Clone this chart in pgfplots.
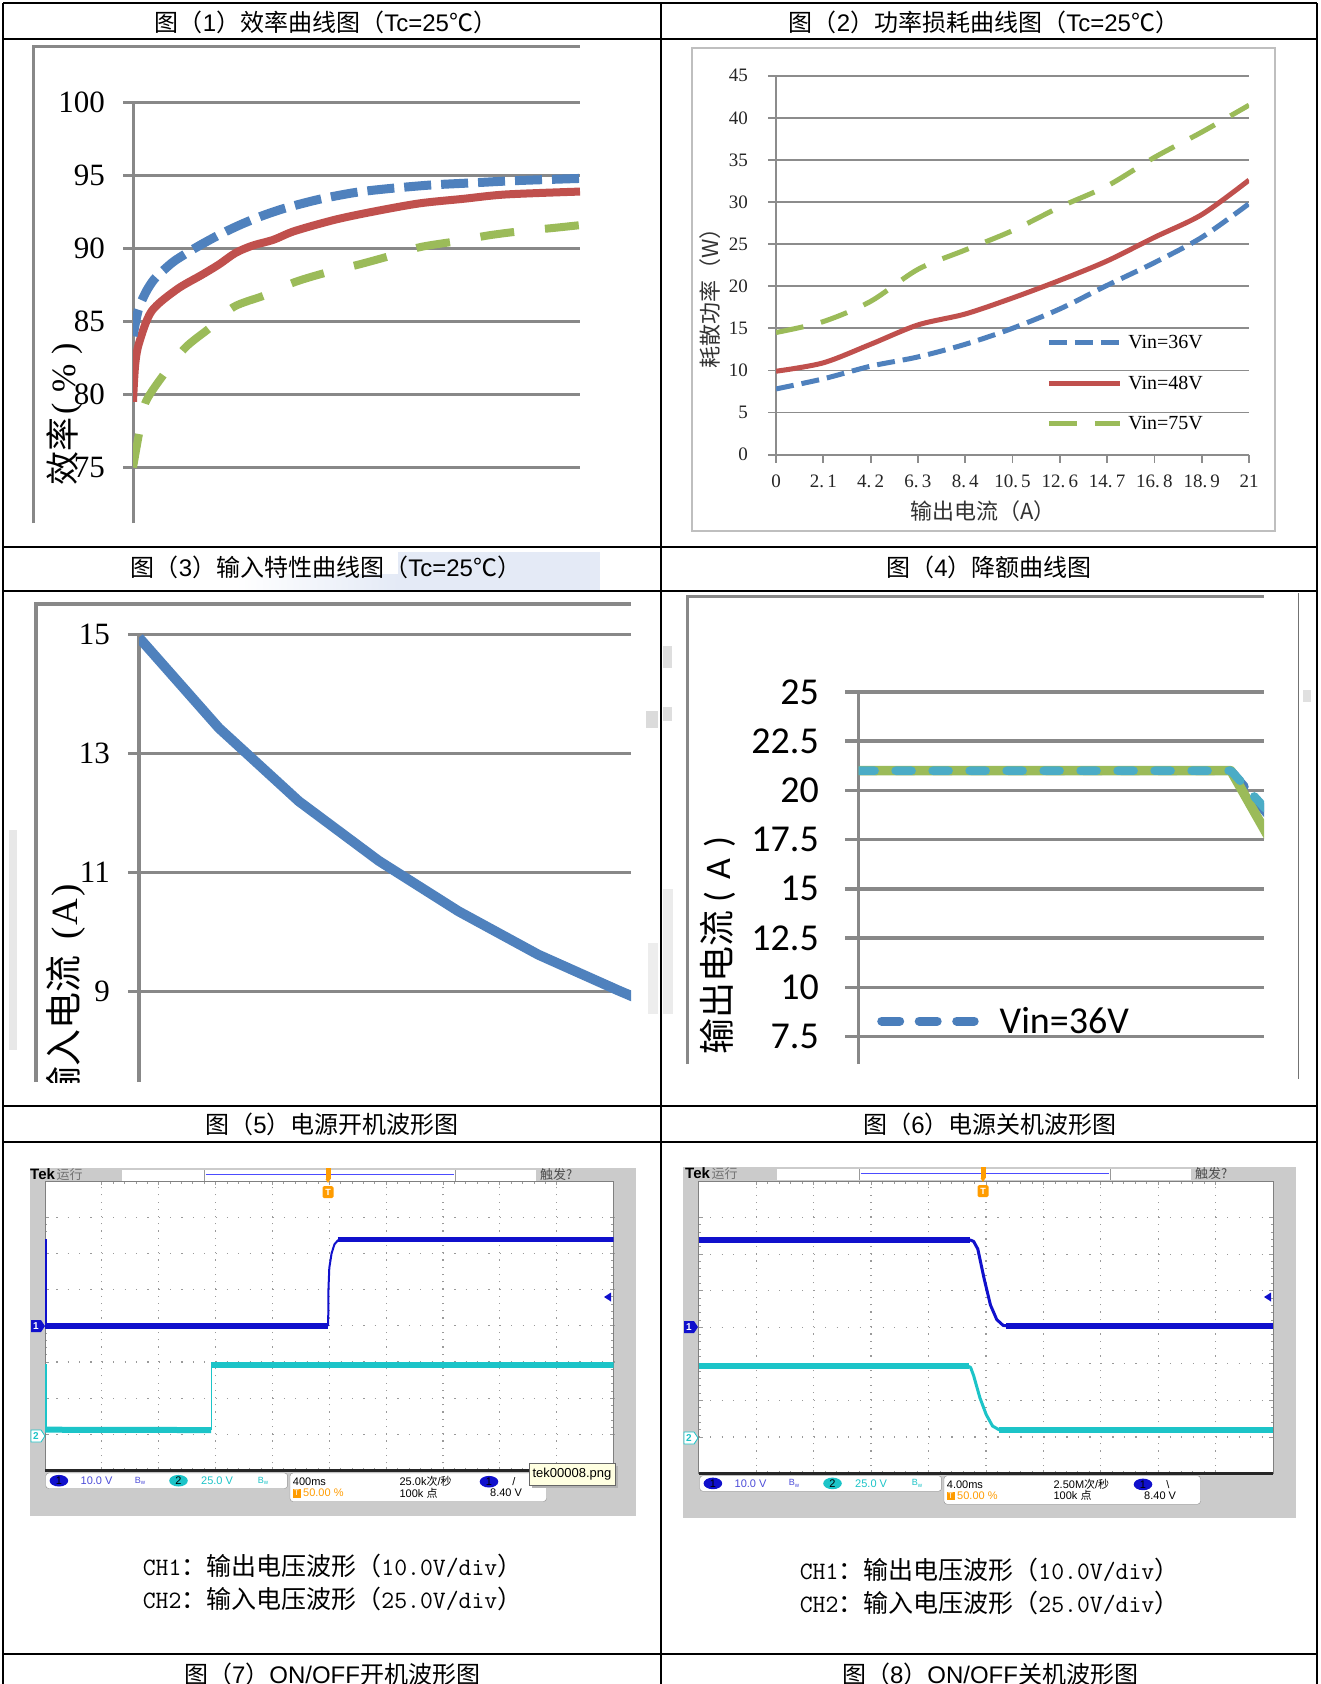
\documentclass[border=0pt]{standalone}
\usepackage{fontspec}
\setmainfont{Liberation Sans}
\newfontfamily\cjk{Noto Sans CJK SC}
\newfontfamily\tnr{Liberation Serif}
\newfontfamily\calib{Carlito}
\usepackage{pgfplots}
\pgfplotsset{compat=1.18}
\newcommand\fs[1]{\fontsize{#1}{#1}\selectfont}
\definecolor{xblue}{HTML}{4F81BD}
\definecolor{xred}{HTML}{C0504D}
\definecolor{xgreen}{HTML}{9BBB59}
\definecolor{xteal}{HTML}{4BACC6}
\definecolor{lblue}{HTML}{4A7EBB}
\definecolor{gridc}{HTML}{888888}
\definecolor{gridb}{HTML}{8C8C8C}
\definecolor{framec}{HTML}{BFBFBF}
\definecolor{scbg}{HTML}{CBCBCB}
\definecolor{scgrid}{HTML}{9A9A9A}
\definecolor{chA}{HTML}{1010CC}
\definecolor{chB}{HTML}{1CC4C8}
\definecolor{trig}{HTML}{FF9C00}
\definecolor{tbg}{HTML}{E4EAF6}
\definecolor{tipc}{HTML}{FFFFE1}

\newcommand\topbar[2]{%
\begin{scope}[shift={(#1,#2)}]
 \fill[white] (122,1170) rectangle (536,1180.7);
 \draw[black!40, line width=0.6] (204.6,1170.3) -- (204.6,1180.5) (454.8,1170.3) -- (454.8,1180.5);
 \draw[blue!70!white, line width=1.5] (205.5,1174.7) -- (454,1174.7);
 \fill[trig] (325.5,1168) rectangle (330.5,1179);
 \fill[trig] (325.5,1179) -- (330.5,1179) -- (328,1183) -- cycle;
 \fill[trig, rounded corners=1.5] (322.5,1186) rectangle (333.5,1198);
 \node[font=\fs{9}\bfseries, text=white, inner sep=0] at (328,1192) {T};
 \node[anchor=west, inner sep=0] at (30,1175) {{\fs{15}\bfseries Tek}\,{\cjk\fs{13}\color{black!55}运行}};
 \node[anchor=west, inner sep=0] at (540,1175) {\cjk\fs{13}\color{black!70}触发?};
\end{scope}}

\newcommand\statusbar[5]{%
\begin{scope}[shift={(#1,#2)}]
 \draw[black!45, fill=white, rounded corners=3] (45.7,1473) rectangle (287.6,1488.5);
 \draw[black!45, fill=white, rounded corners=3] (290,1473) rectangle (546.5,1501.5);
 \fill[chA] (58.9,1480.7) ellipse (9.3 and 5.8);
 \node[font=\fs{11}, inner sep=0] at (58.9,1480.7) {1};
 \node[anchor=west, font=\fs{11}, text=chA!75!white, inner sep=0] at (80.5,1480.7) {10.0 V};
 \node[font=\fs{9}, text=chA!75!white, inner sep=0] at (140,1480.7) {B\raisebox{-1.5pt}{\fs{6}w}};
 \fill[chB] (178.5,1480.7) ellipse (9.3 and 5.8);
 \node[font=\fs{11}, inner sep=0] at (178.5,1480.7) {2};
 \node[anchor=west, font=\fs{11}, text=chB, inner sep=0] at (201,1480.7) {25.0 V};
 \node[font=\fs{9}, text=chB, inner sep=0] at (263,1480.7) {B\raisebox{-1.5pt}{\fs{6}w}};
 \node[anchor=west, font=\fs{11}, inner sep=0] at (292.7,1481.7) {#3};
 \node[anchor=west, font=\fs{11}, inner sep=0] at (399.4,1481.7) {#4};
 \fill[chA] (489,1481.7) ellipse (9.3 and 5.8);
 \node[font=\fs{11}, inner sep=0] at (489,1481.7) {1};
 \node[font=\fs{11}, inner sep=0] at (514,1481.7) {#5};
 \fill[trig] (292.7,1488.8) rectangle (300.5,1497.5);
 \node[font=\fs{8}, text=white, inner sep=0] at (296.6,1493.2) {T};
 \node[anchor=west, font=\fs{11}, text=trig, inner sep=0] at (303,1493) {50.00 \%};
 \node[anchor=west, font=\fs{11}, inner sep=0] at (399.4,1493) {100k {\cjk 点}};
 \node[anchor=west, font=\fs{11}, inner sep=0] at (490,1493) {8.40 V};
\end{scope}}

\newcommand\gndmarks[3]{% x-left, y ch1, y ch2
 \fill[chA] (#1,#2-6) -- (#1+10,#2-6) -- (#1+14,#2) -- (#1+10,#2+6) -- (#1,#2+6) -- cycle;
 \node[text=white, font=\fs{10}\bfseries, inner sep=0] at (#1+5,#2) {1};
 \draw[chB, fill=white, line width=0.8] (#1,#3-6) -- (#1+10,#3-6) -- (#1+14,#3) -- (#1+10,#3+6) -- (#1,#3+6) -- cycle;
 \node[text=chB, font=\fs{10}\bfseries, inner sep=0] at (#1+5,#3) {2};
}

\newcommand\capA[3]{{\ttfamily #1}{\cjk ：#2（}{\ttfamily #3}{\cjk ）}}

\begin{document}
\begin{tikzpicture}
\path[use as bounding box] (0pt,0pt) rectangle (1320pt,-1684pt);
\clip (0pt,0pt) rectangle (1320pt,-1684pt);
\fill[white] (0pt,0pt) rectangle (1320pt,-1684pt);

\begin{scope}[x=1pt,y=-1pt]
\shade[left color=white, right color=tbg] (236,574) rectangle (398,590);
\fill[tbg] (398,552) rectangle (600,590);
\fill[black!9] (9,830) rectangle (17,1050);
\fill[black!14] (646,711) rectangle (658,728);
\fill[black!7] (648,943) rectangle (658,1014);
\fill[black!13] (663,646) rectangle (672,668);
\fill[black!13] (663,707) rectangle (672,721);
\fill[black!8] (663,889) rectangle (673,1014);
\fill[black!12] (1303,690) rectangle (1311,702);
\draw[gridc, line width=3] (33.7,523) -- (33.7,46) -- (580,46);
\draw[framec, line width=2] (692,48) rectangle (1275,531);
\draw[gridc, line width=3.5] (36,1082) -- (36,604) -- (631,604);
\draw[gridc, line width=3] (687,1064) -- (687,596) -- (1264,596);
\draw[black!55, line width=1] (1298,593) -- (1298,1079);
\fill[scbg] (29.5,1168) rectangle (635.5,1516);
\fill[scbg] (683,1167) rectangle (1295.5,1518);
\fill[white] (45,1181) rectangle (613.6,1470.6);
\fill[white] (698.7,1181) rectangle (1273.2,1473.5);
% y labels
\node[rotate=90, anchor=east, font=\fs{34}, inner sep=0] at (65,343) {{\cjk 效率}\hspace{3pt}{\tnr(\hspace{10pt}\%\hspace{10pt})}};
\node[rotate=90, font=\cjk\fs{22}, text=black!80, inner sep=0] at (710,293) {耗散功率（W）};
\node[font=\cjk\fs{22}, text=black!80, inner sep=0] at (983,511) {输出电流（A）};
\node[rotate=90, anchor=east, font=\fs{36}, inner sep=0] at (718,836) {{\cjk 输出电流}\hspace{8pt}{\calib(\hspace{12pt}A\hspace{12pt})}};
\begin{scope}
\clip (30,600) rectangle (640,1082);
\node[rotate=90, anchor=east, font=\fs{37}, inner sep=0] at (66,884) {{\cjk 输入电流}\hspace{16pt}{\tnr(\hspace{2pt}A\hspace{2pt})}};
\end{scope}
\end{scope}

% ---------- Chart 1 ----------
\begin{axis}[
  at={(133pt,-523pt)}, anchor=south west, scale only axis,
  width=447pt, height=420.5pt,
  xmin=0, xmax=21, ymin=71.2, ymax=100,
  axis x line=none, axis y line*=left,
  axis line style={draw=gridc, line width=3pt, -},
  xtick=\empty,
  ytick={75,80,85,90,95,100}, yticklabels={75,80,85,90,95,100},
  ymajorgrids, major grid style={draw=gridc, line width=3pt},
  tick align=outside, major tick length=10pt,
  tick style={draw=gridc, line width=3pt},
  yticklabel style={font=\tnr\fs{31}, inner sep=0pt, anchor=east, xshift=-18pt},
]
\addplot[xgreen, line width=8pt, dash pattern=on 34pt off 31pt, smooth] coordinates {
(0,75.0)(0.28,77.3)(0.57,79.4)(1.36,81.2)(2.45,83.2)(3.64,84.6)(4.73,86.0)(6.2,86.8)(7.6,87.7)(9.2,88.4)(10.6,88.9)(12.1,89.5)(13.5,90.1)(15.2,90.5)(16.7,90.9)(18.3,91.2)(19.7,91.4)(21,91.6)};
\addplot[xred, line width=8pt, smooth] coordinates {
(0,79.5)(0.1,82.0)(0.28,83.5)(0.87,85.7)(2.06,87.2)(3.24,88.2)(4.03,88.9)(4.82,89.7)(5.62,90.2)(6.6,90.6)(7.6,91.2)(9.57,92.0)(11.55,92.6)(13.5,93.1)(15.5,93.4)(17.5,93.7)(21,93.9)};
\addplot[xblue, line width=9pt, dash pattern=on 27pt off 10pt, smooth] coordinates {
(0,84.0)(0.25,85.8)(0.6,87.0)(1.0,87.9)(1.5,88.6)(2.0,89.2)(3.0,90.1)(4.0,90.9)(5.0,91.6)(6.0,92.2)(7.0,92.7)(8.0,93.1)(9.0,93.45)(10.5,93.85)(12.0,94.1)(14,94.35)(16,94.5)(18,94.65)(21,94.8)};
\end{axis}

% ---------- Chart 2 ----------
\begin{axis}[
  at={(776pt,-454.6pt)}, anchor=south west, scale only axis,
  width=473pt, height=378.9pt,
  xmin=0, xmax=21, ymin=0, ymax=45,
  axis x line*=bottom, axis y line*=left,
  axis line style={draw=gridb, line width=1.8pt, -},
  xtick={0,2.1,4.2,6.3,8.4,10.5,12.6,14.7,16.8,18.9,21},
  xticklabels={0,2.\,1,4.\,2,6.\,3,8.\,4,10.\,5,12.\,6,14.\,7,16.\,8,18.\,9,21},
  ytick={0,5,10,15,20,25,30,35,40,45}, yticklabels={0,5,10,15,20,25,30,35,40,45},
  ymajorgrids, major grid style={draw=gridb, line width=1.8pt},
  tick align=outside, major tick length=8pt,
  tick style={draw=gridb, line width=1.8pt},
  yticklabel style={font=\tnr\fs{19}, text=black!85, inner sep=0pt, anchor=east, xshift=-20pt},
  xticklabel style={font=\tnr\fs{19}, text=black!85, inner sep=0pt, anchor=north, yshift=-12pt},
  legend style={at={(0.571,0.316)}, anchor=north west, draw=none, fill=none, inner sep=0pt,
    row sep=26pt, font=\tnr\fs{20}, nodes={inner sep=0pt}, column sep=6pt, legend cell align=left},
  legend image code/.code={\draw[#1] (0pt,0pt) -- (71pt,0pt);},
]
\addplot[xblue, line width=5pt, dash pattern=on 18pt off 8pt, smooth] coordinates {
(0,7.8)(2.1,9.0)(4.2,10.5)(6.3,11.6)(8.4,13.1)(10.5,15.0)(12.6,17.3)(14.7,20.1)(16.8,22.8)(18.9,25.8)(21,29.8)};
\addlegendentry{Vin=36V}
\addplot[xred, line width=5pt, smooth] coordinates {
(0,9.9)(2.1,10.9)(4.2,13.1)(6.3,15.4)(8.4,16.7)(10.5,18.6)(12.6,20.7)(14.7,23.0)(16.8,25.8)(18.9,28.5)(21,32.6)};
\addlegendentry{Vin=48V}
\addplot[xgreen, line width=5pt, dash pattern=on 28pt off 18pt, smooth] coordinates {
(0,14.5)(2.1,15.8)(4.2,18.2)(6.3,22.0)(8.4,24.3)(10.5,26.6)(12.6,29.4)(14.7,31.9)(16.8,35.3)(18.9,38.3)(21,41.5)};
\addlegendentry{Vin=75V}
\end{axis}

% ---------- Chart 3 ----------
\begin{axis}[
  at={(139pt,-1082pt)}, anchor=south west, scale only axis,
  width=492pt, height=447.4pt,
  xmin=0, xmax=6.16, ymin=7.48, ymax=15,
  axis x line=none, axis y line*=left,
  axis line style={draw=gridc, line width=3.5pt, -},
  xtick=\empty,
  ytick={9,11,13,15}, yticklabels={9,11,13,15},
  ymajorgrids, major grid style={draw=gridc, line width=3.5pt},
  tick align=outside, major tick length=11pt,
  tick style={draw=gridc, line width=3.5pt},
  yticklabel style={font=\tnr\fs{31}, inner sep=0pt, anchor=east, xshift=-18pt},
]
\addplot[xblue, line width=10pt, line join=round] coordinates {
(0,14.95)(1,13.43)(2,12.2)(3,11.2)(4,10.35)(5,9.62)(6,9.02)(7,8.45)};
\end{axis}

% ---------- Chart 4 ----------
\begin{axis}[
  at={(858.6pt,-1064pt)}, anchor=south west, scale only axis,
  width=405.4pt, height=372pt,
  xmin=-40, xmax=96.1, ymin=6.1, ymax=25,
  axis x line=none, axis y line*=left,
  axis line style={draw=gridc, line width=3.5pt, -},
  xtick=\empty,
  ytick={7.5,10,12.5,15,17.5,20,22.5,25}, yticklabels={7.5,10,12.5,15,17.5,20,22.5,25},
  ymajorgrids, major grid style={draw=gridc, line width=3.5pt},
  tick align=outside, major tick length=13.6pt,
  tick style={draw=gridc, line width=3.5pt},
  yticklabel style={font=\calib\fs{38}, inner sep=0pt, anchor=east, xshift=-26pt},
  legend style={at={(0.0454,0.1156)}, anchor=west, draw=none, fill=none, inner sep=0pt,
    font=\calib\fs{38}, nodes={inner sep=0pt}, column sep=21pt},
  legend image code/.code={\draw[#1] (4.5pt,0pt) -- (97pt,0pt);},
]
\addplot[lblue, line width=9pt, line cap=round, line join=round, dash pattern=on 18pt off 19.5pt] coordinates {(-40,21)(85,21)(100,18.3)};
\addlegendentry{Vin=36V}
\addplot[xgreen, line width=9.5pt, line join=round, forget plot] coordinates {(-40,21)(85,21)(100,17.0)};
\addplot[xteal, line width=8.5pt, line cap=round, line join=round, dash pattern=on 16pt off 21pt, forget plot] coordinates {(-40,21)(85,21)(100,18.5)};
\end{axis}

% ---------- Scope 5 ----------
\begin{axis}[
  at={(45pt,-1470.6pt)}, anchor=south west, scale only axis,
  width=568.6pt, height=289.6pt,
  xmin=0, xmax=10, ymin=0, ymax=8,
  xtick={1,...,9}, ytick={1,...,7}, xticklabels={}, yticklabels={},
  minor x tick num=4, minor y tick num=4,
  tick align=inside, major tick length=4pt, minor tick length=2.5pt,
  tick style={draw=scgrid, line width=0.8pt},
  axis line style={draw=black!50, line width=0.8pt},
  xmajorgrids, ymajorgrids,
  every axis x grid/.style={draw=scgrid, line width=1.2pt, dash pattern=on 1.2pt off 6.04pt},
  every axis y grid/.style={draw=scgrid, line width=1.2pt, dash pattern=on 1.2pt off 10.17pt},
]
\addplot[chA, line width=5.5pt] coordinates {(0,3.99)(4.98,3.99)};
\addplot[chA, line width=1.8pt] coordinates {(0.02,6.4)(0.02,3.99)};
\addplot[chA, line width=2pt] coordinates {(4.98,3.99)(4.985,5.0)(5.0,5.6)(5.04,6.0)(5.09,6.25)(5.15,6.36)(5.25,6.38)};
\addplot[chA, line width=5.5pt] coordinates {(5.15,6.38)(10,6.38)};
\addplot[chB, line width=2pt] coordinates {(0.02,2.95)(0.02,1.13)};
\addplot[chB, line width=6pt] coordinates {(0,1.13)(2.92,1.12)};
\addplot[chB, line width=1.5pt] coordinates {(2.925,1.12)(2.925,2.91)};
\addplot[chB, line width=6pt] coordinates {(2.92,2.91)(10,2.91)};
\end{axis}

% ---------- Scope 6 ----------
\begin{axis}[
  at={(698.7pt,-1473.5pt)}, anchor=south west, scale only axis,
  width=574.5pt, height=292.5pt,
  xmin=0, xmax=10, ymin=0, ymax=8,
  xtick={1,...,9}, ytick={1,...,7}, xticklabels={}, yticklabels={},
  minor x tick num=4, minor y tick num=4,
  tick align=inside, major tick length=4pt, minor tick length=2.5pt,
  tick style={draw=scgrid, line width=0.8pt},
  axis line style={draw=black!50, line width=0.8pt},
  xmajorgrids, ymajorgrids,
  every axis x grid/.style={draw=scgrid, line width=1.2pt, dash pattern=on 1.2pt off 6.11pt},
  every axis y grid/.style={draw=scgrid, line width=1.2pt, dash pattern=on 1.2pt off 10.29pt},
]
\addplot[chA, line width=5.5pt] coordinates {(0,6.39)(4.72,6.39)};
\addplot[chA, line width=3pt, line join=round] coordinates {(4.72,6.39)(4.785,6.35)(4.858,6.14)(4.968,5.33)(5.078,4.61)(5.188,4.21)(5.30,4.05)(5.41,4.03)};
\addplot[chA, line width=5.5pt] coordinates {(5.35,4.03)(10,4.03)};
\addplot[chB, line width=6pt] coordinates {(0,2.93)(4.70,2.93)};
\addplot[chB, line width=3pt, line join=round] coordinates {(4.70,2.93)(4.733,2.90)(4.785,2.68)(4.895,2.07)(5.005,1.61)(5.114,1.30)(5.224,1.20)(5.3,1.19)};
\addplot[chB, line width=6pt] coordinates {(5.22,1.20)(10,1.20)};
\end{axis}

\begin{scope}[x=1pt,y=-1pt]
\draw[black!85, line width=2.5] (45,1470.6) -- (613.6,1470.6);
\draw[black!85, line width=2.5] (698.7,1473.5) -- (1273.2,1473.5);
\topbar{0}{0}
\topbar{655}{-1}
\statusbar{0}{0}{400ms}{25.0k{\cjk 次}/{\cjk 秒}}{/}
\statusbar{654}{2.7}{4.00ms}{2.50M{\cjk 次}/{\cjk 秒}}{\textbackslash}
\gndmarks{31}{1326}{1436}
\gndmarks{684}{1327}{1438}
\fill[chA] (604,1297) -- (611,1292.5) -- (611,1301.5) -- cycle;
\fill[chA] (1264,1297) -- (1271,1292.5) -- (1271,1301.5) -- cycle;
% tooltip
\fill[black!30] (532,1466) rectangle (618,1488);
\draw[black!60, fill=tipc] (529,1463) rectangle (615,1485);
\node[font=\fs{13}, inner sep=0] at (572,1474) {tek00008.png};
% captions
\node[font=\fs{25}, inner sep=0] at (332.5,1566) {\capA{CH1}{输出电压波形}{10.0V/div}};
\node[font=\fs{25}, inner sep=0] at (332.5,1599) {\capA{CH2}{输入电压波形}{25.0V/div}};
\node[font=\fs{25}, inner sep=0] at (989.5,1570) {\capA{CH1}{输出电压波形}{10.0V/div}};
\node[font=\fs{25}, inner sep=0] at (989.5,1603) {\capA{CH2}{输入电压波形}{25.0V/div}};
% titles
\node[font=\fs{24}, inner sep=0] at (326,22) {{\cjk 图（}1{\cjk ）效率曲线图（}Tc=25{\cjk ℃）}};
\node[font=\fs{24}, inner sep=0] at (984,22) {{\cjk 图（}2{\cjk ）功率损耗曲线图（}Tc=25{\cjk ℃）}};
\node[font=\fs{24}, inner sep=0] at (326,567) {{\cjk 图（}3{\cjk ）输入特性曲线图（}Tc=25{\cjk ℃）}};
\node[font=\fs{24}, inner sep=0] at (989,567) {{\cjk 图（}4{\cjk ）降额曲线图}};
\node[font=\fs{24}, inner sep=0] at (332,1124) {{\cjk 图（}5{\cjk ）电源开机波形图}};
\node[font=\fs{24}, inner sep=0] at (990,1124) {{\cjk 图（}6{\cjk ）电源关机波形图}};
\node[font=\fs{24}, inner sep=0] at (332,1674) {{\cjk 图（}7{\cjk ）}ON/OFF{\cjk 开机波形图}};
\node[font=\fs{24}, inner sep=0] at (990,1674) {{\cjk 图（}8{\cjk ）}ON/OFF{\cjk 关机波形图}};
% table lines
\foreach \yy in {3,39,547,591,1106,1142,1654} {\draw[black, line width=2.5] (3,\yy) -- (1317,\yy);}
\foreach \xx in {3,661,1317} {\draw[black, line width=2.5] (\xx,3) -- (\xx,1690);}
\end{scope}
\end{tikzpicture}
\end{document}
